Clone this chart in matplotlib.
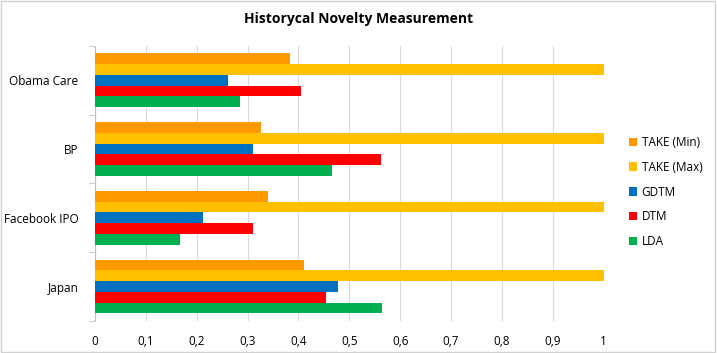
import numpy as np
import matplotlib.pyplot as plt
from matplotlib.patches import Rectangle

# data (bottom to top in the chart)
categories = ["Japan", "Facebook IPO", "BP", "Obama Care"]
lda = [0.565, 0.167, 0.466, 0.286]
dtm = [0.454, 0.310, 0.562, 0.405]
gdtm = [0.478, 0.213, 0.310, 0.261]
take_max = [1.0, 1.0, 1.0, 1.0]
take_min = [0.411, 0.340, 0.326, 0.384]

series = [
    ("LDA", lda, "#00b050"),
    ("DTM", dtm, "#ff0000"),
    ("GDTM", gdtm, "#0070c0"),
    ("TAKE (Max)", take_max, "#ffc000"),
    ("TAKE (Min)", take_min, "#ff9900"),
]
xticks = np.arange(0, 1.01, 0.1)

plt.rcParams['font.family'] = ['Open Sans', 'DejaVu Sans']

fig = plt.figure(figsize=(7.17, 3.53), dpi=100)
ax = fig.add_axes([0.1325, 0.091, 0.7095, 0.779])

y = np.arange(len(categories))
h = 0.156
handles = []
for i, (name, vals, col) in enumerate(series):
    b = ax.barh(y - 2 * h + i * h, vals, height=h, color=col, zorder=3, label=name)
    handles.append(b)

ax.set_xlim(0, 1)
ax.set_ylim(-0.5, len(categories) - 0.5)
ax.set_xticks(xticks)
ax.set_xticklabels([("%g" % t).replace(".", ",") for t in xticks], fontsize=8.5)
ax.set_yticks(y)
ax.set_yticklabels(categories, fontsize=8.5)
ax.set_yticks(np.arange(-0.5, len(categories), 1), minor=True)
ax.tick_params(axis='y', which='major', length=0, pad=12)
ax.tick_params(axis='y', which='minor', length=4, color="#bfbfbf")
ax.tick_params(axis='x', length=0, pad=10)
ax.grid(axis='x', color="#d9d9d9", linewidth=0.8, zorder=0)
for s in ["top", "right", "bottom"]:
    ax.spines[s].set_visible(False)
ax.spines["left"].set_color("#bfbfbf")

fig.suptitle("Historycal Novelty Measurement", y=0.965, fontsize=10, fontweight='bold')

leg = fig.legend(handles[::-1], [s[0] for s in series][::-1], loc='center left',
                 bbox_to_anchor=(0.862, 0.456), frameon=False, fontsize=8.5,
                 handlelength=0.7, handleheight=0.7, labelspacing=1.0, handletextpad=0.4)

fig.patches.append(Rectangle((0.002, 0.003), 0.995, 0.993, transform=fig.transFigure,
                             fill=False, edgecolor="#d0d0d0", linewidth=1))

fig.savefig("out.png", dpi=100)
